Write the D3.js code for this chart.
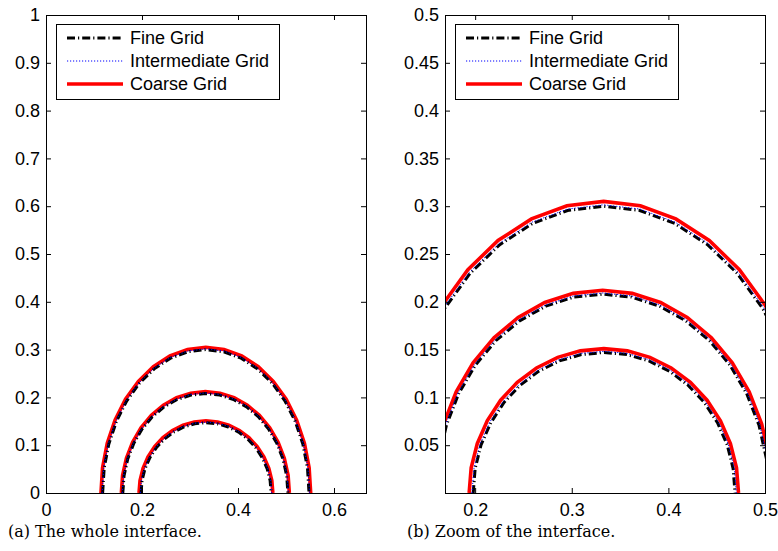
<!DOCTYPE html>
<html>
<head>
<meta charset="utf-8">
<script src="https://cdn.jsdelivr.net/npm/d3@7"></script>
<style>
  body { margin: 0; background: #fff; }
  svg { display: block; }
  .tick text { font-family: "Liberation Sans", Arial, sans-serif; font-size: 18px; fill: #000; }
  .tick line { stroke: #000; }
  .legend text { font-family: "Liberation Sans", Arial, sans-serif; font-size: 18px; fill: #000; }
  .caption { font-family: "DejaVu Serif", serif; font-size: 16px; fill: #000; }
</style>
</head>
<body>
<svg id="chart"></svg>
<script>
// interface shapes, [x, y] pairs from left foot to right foot
let fineOuter = [[0.118,0],[0.1212,0.0522],[0.1309,0.1026],[0.1468,0.15],[0.1683,0.1929],[0.1948,0.2298],[0.2255,0.2598],[0.2595,0.282],[0.2956,0.2955],[0.333,0.300],
                 [0.3704,0.2955],[0.4065,0.282],[0.4405,0.2598],[0.4712,0.2298],[0.4977,0.1929],[0.5192,0.15],[0.5351,0.1026],[0.5448,0.0522],[0.548,0]];
let fineMiddle = [[0.160,0],[0.1626,0.0362],[0.1703,0.0711],[0.183,0.104],[0.2002,0.1337],[0.2214,0.1593],[0.246,0.1801],[0.2732,0.1955],[0.3021,0.2049],[0.332,0.208],
                  [0.3619,0.2049],[0.3908,0.1955],[0.418,0.1801],[0.4426,0.1593],[0.4638,0.1337],[0.481,0.104],[0.4937,0.0711],[0.5014,0.0362],[0.504,0]];
let fineInner = [[0.198,0],[0.200,0.0256],[0.2061,0.0503],[0.2162,0.0735],[0.2297,0.0945],[0.2464,0.1126],[0.2657,0.1273],[0.2872,0.1382],[0.3099,0.1448],[0.3335,0.147],
                 [0.3571,0.1448],[0.3798,0.1382],[0.4013,0.1273],[0.4206,0.1126],[0.4373,0.0945],[0.4508,0.0735],[0.4609,0.0503],[0.467,0.0256],[0.469,0]];

let interOuter = [[0.117,0],[0.1202,0.0525],[0.1299,0.1031],[0.1459,0.1508],[0.1675,0.1939],[0.1941,0.2309],[0.2250,0.2611],[0.2591,0.2834],[0.2954,0.2970],[0.333,0.3015],
                  [0.3706,0.2970],[0.4069,0.2834],[0.4410,0.2611],[0.4719,0.2309],[0.4985,0.1939],[0.5201,0.1508],[0.5361,0.1031],[0.5458,0.0525],[0.549,0]];
let interMiddle = [[0.159,0],[0.1617,0.0364],[0.1695,0.0715],[0.1822,0.1046],[0.1995,0.1345],[0.2208,0.1602],[0.2456,0.1812],[0.2729,0.1966],[0.3019,0.2061],[0.332,0.2092],
                   [0.3621,0.2061],[0.3911,0.1966],[0.4184,0.1812],[0.4432,0.1602],[0.4645,0.1345],[0.4818,0.1046],[0.4945,0.0715],[0.5023,0.0364],[0.505,0]];
let interInner = [[0.1967,0],[0.1988,0.0258],[0.2049,0.0507],[0.2151,0.0741],[0.2287,0.0953],[0.2456,0.1135],[0.2650,0.1284],[0.2867,0.1393],[0.3096,0.1460],[0.3335,0.1482],
                  [0.3574,0.1460],[0.3803,0.1393],[0.4020,0.1284],[0.4214,0.1135],[0.4383,0.0953],[0.4519,0.0741],[0.4621,0.0507],[0.4682,0.0258],[0.4703,0]];

let coarseOuter = [[0.1145,0],[0.1178,0.0531],[0.1276,0.1043],[0.1438,0.1525],[0.1656,0.1961],[0.1925,0.2336],[0.2237,0.2641],[0.2583,0.2867],[0.2950,0.3004],[0.333,0.305],
                   [0.3710,0.3004],[0.4077,0.2867],[0.4423,0.2641],[0.4735,0.2336],[0.5004,0.1961],[0.5222,0.1525],[0.5384,0.1043],[0.5482,0.0531],[0.5515,0]];
let coarseMiddle = [[0.157,0],[0.1596,0.0369],[0.1675,0.0725],[0.1804,0.106],[0.1979,0.1363],[0.2195,0.1624],[0.2445,0.1836],[0.2721,0.1993],[0.3015,0.2088],[0.332,0.212],
                    [0.3625,0.2088],[0.3919,0.1993],[0.4195,0.1836],[0.4445,0.1624],[0.4661,0.1363],[0.4836,0.106],[0.4965,0.0725],[0.5044,0.0369],[0.507,0]];
let coarseInner = [[0.1938,0],[0.1959,0.0263],[0.2022,0.0516],[0.2125,0.0755],[0.2264,0.0971],[0.2436,0.1157],[0.2635,0.1308],[0.2855,0.1419],[0.3089,0.1487],[0.3332,0.151],
                   [0.3575,0.1487],[0.3809,0.1419],[0.4029,0.1308],[0.4228,0.1157],[0.4400,0.0971],[0.4539,0.0755],[0.4642,0.0516],[0.4705,0.0263],[0.4726,0]];

let seriesNames = ["Fine Grid", "Intermediate Grid", "Coarse Grid"];

let leftXTicks = [0, 0.2, 0.4, 0.6];
let leftYTicks = [0, 0.1, 0.2, 0.3, 0.4, 0.5, 0.6, 0.7, 0.8, 0.9, 1];
let rightXTicks = [0.2, 0.3, 0.4, 0.5];
let rightYTicks = [0.05, 0.1, 0.15, 0.2, 0.25, 0.3, 0.35, 0.4, 0.45, 0.5];

let captions = ["(a) The whole interface.", "(b) Zoom of the interface."];

let width = 778, height = 551;
let svg = d3.select("svg#chart").attr("width", width).attr("height", height);

let styles = [
    { stroke: "#000", width: 3, dash: "8,3,1.2,3" },
    { stroke: "#0000ff", width: 1, dash: "1.2,1.8" },
    { stroke: "#ff0000", width: 3.6, dash: null }
];

let seriesData = [
    [fineOuter, fineMiddle, fineInner],
    [interOuter, interMiddle, interInner],
    [coarseOuter, coarseMiddle, coarseInner]
];

function fmt(d) { return String(+d.toFixed(2)); }

function drawPanel(id, left, xDomain, yDomain, xTicks, yTicks, caption) {
    let top = 15, bottom = 493, w = 320;
    let x = d3.scaleLinear().domain(xDomain).range([left, left + w]);
    let y = d3.scaleLinear().domain(yDomain).range([bottom, top]);

    let g = svg.append("g").attr("class", "panel");

    g.append("clipPath").attr("id", "clip" + id)
        .append("rect")
        .attr("x", left).attr("y", top)
        .attr("width", w).attr("height", bottom - top);

    // coarse first, then fine, intermediate dots on top
    let line = d3.line().x(d => x(d[0])).y(d => y(d[1]));
    let curves = g.append("g").attr("clip-path", `url(#clip${id})`);
    [2, 0, 1].forEach(s => {
        curves.selectAll(null)
            .data(seriesData[s])
            .enter().append("path")
            .attr("d", line)
            .attr("fill", "none")
            .attr("stroke", styles[s].stroke)
            .attr("stroke-width", styles[s].width)
            .attr("stroke-dasharray", styles[s].dash);
    });

    // axes, ticks pointing inward on all four sides
    g.append("g").attr("transform", `translate(0, ${bottom})`)
        .call(d3.axisBottom(x).tickValues(xTicks).tickFormat(fmt).tickSizeInner(-5).tickSizeOuter(0).tickPadding(10))
        .call(a => a.select(".domain").remove());
    g.append("g").attr("transform", `translate(0, ${top})`)
        .call(d3.axisTop(x).tickValues(xTicks).tickFormat("").tickSizeInner(-5).tickSizeOuter(0))
        .call(a => a.select(".domain").remove());
    g.append("g").attr("transform", `translate(${left}, 0)`)
        .call(d3.axisLeft(y).tickValues(yTicks).tickFormat(fmt).tickSizeInner(-5).tickSizeOuter(0).tickPadding(6))
        .call(a => a.select(".domain").remove());
    g.append("g").attr("transform", `translate(${left + w}, 0)`)
        .call(d3.axisRight(y).tickValues(yTicks).tickFormat("").tickSizeInner(-5).tickSizeOuter(0))
        .call(a => a.select(".domain").remove());
    g.selectAll(".tick text").attr("font-family", null).attr("font-size", null);

    g.append("rect")
        .attr("x", left + 0.5).attr("y", top + 0.5)
        .attr("width", w).attr("height", bottom - top)
        .attr("fill", "none").attr("stroke", "#000").attr("stroke-width", 1)
        .attr("shape-rendering", "crispEdges");

    // legend
    let lg = g.append("g").attr("class", "legend").attr("transform", `translate(${left + 10}, 24)`);
    lg.append("rect")
        .attr("x", 0.5).attr("y", 0.5).attr("width", 223).attr("height", 75)
        .attr("fill", "#fff").attr("stroke", "#000").attr("stroke-width", 1)
        .attr("shape-rendering", "crispEdges");
    seriesNames.forEach((name, i) => {
        let yy = 14 + i * 23;
        lg.append("line")
            .attr("x1", 11).attr("x2", 67).attr("y1", yy).attr("y2", yy)
            .attr("stroke", styles[i].stroke)
            .attr("stroke-width", styles[i].width)
            .attr("stroke-dasharray", styles[i].dash);
        lg.append("text").attr("x", 74).attr("y", yy).attr("dy", "0.35em").text(name);
    });

    svg.append("text").attr("class", "caption")
        .attr("x", left - 38).attr("y", 537)
        .text(caption);
}

drawPanel("a", 46, [0, 0.6667], [0, 1], leftXTicks, leftYTicks, captions[0]);
drawPanel("b", 445, [0.1688, 0.5], [0, 0.5], rightXTicks, rightYTicks, captions[1]);
</script>
</body>
</html>
